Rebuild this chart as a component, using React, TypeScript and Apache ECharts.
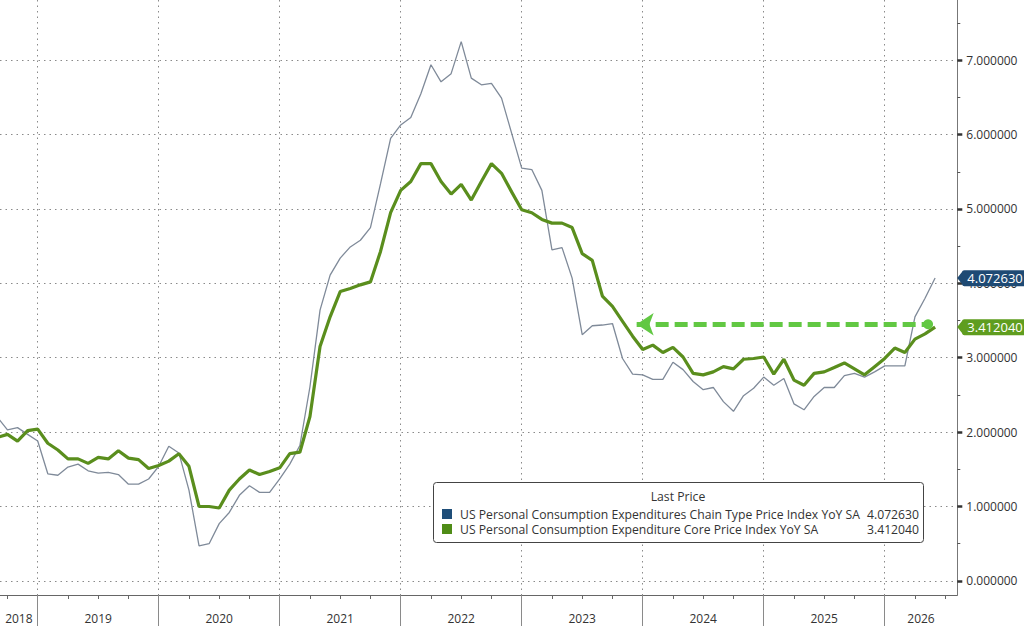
import React, { useEffect, useRef } from "react";
import * as echarts from "echarts";

// Monthly observations (month-end), Aug 2018 .. May 2026
const months = [
  "2018-08", "2018-09", "2018-10", "2018-11", "2018-12",
  "2019-01", "2019-02", "2019-03", "2019-04", "2019-05", "2019-06", "2019-07", "2019-08", "2019-09", "2019-10", "2019-11", "2019-12",
  "2020-01", "2020-02", "2020-03", "2020-04", "2020-05", "2020-06", "2020-07", "2020-08", "2020-09", "2020-10", "2020-11", "2020-12",
  "2021-01", "2021-02", "2021-03", "2021-04", "2021-05", "2021-06", "2021-07", "2021-08", "2021-09", "2021-10", "2021-11", "2021-12",
  "2022-01", "2022-02", "2022-03", "2022-04", "2022-05", "2022-06", "2022-07", "2022-08", "2022-09", "2022-10", "2022-11", "2022-12",
  "2023-01", "2023-02", "2023-03", "2023-04", "2023-05", "2023-06", "2023-07", "2023-08", "2023-09", "2023-10", "2023-11", "2023-12",
  "2024-01", "2024-02", "2024-03", "2024-04", "2024-05", "2024-06", "2024-07", "2024-08", "2024-09", "2024-10", "2024-11", "2024-12",
  "2025-01", "2025-02", "2025-03", "2025-04", "2025-05", "2025-06", "2025-07", "2025-08", "2025-09", "2025-10", "2025-11", "2025-12",
  "2026-01", "2026-02", "2026-03", "2026-04", "2026-05",
];

const headlinePce = [
  2.2, 2.03, 2.06, 1.97, 1.88,
  1.44, 1.42, 1.53, 1.57, 1.48, 1.45, 1.46, 1.43, 1.3, 1.3, 1.37, 1.54,
  1.81, 1.72, 1.22, 0.47, 0.5, 0.77, 0.92, 1.15, 1.28, 1.19, 1.19, 1.37,
  1.57, 1.82, 2.61, 3.64, 4.11, 4.34, 4.49, 4.58, 4.75, 5.34, 5.95, 6.13,
  6.23, 6.55, 6.94, 6.71, 6.82, 7.25, 6.76, 6.67, 6.69, 6.49, 6.02, 5.55,
  5.53, 5.25, 4.45, 4.48, 4.07, 3.31, 3.43, 3.44, 3.46, 2.99, 2.78, 2.77,
  2.71, 2.71, 2.94, 2.84, 2.68, 2.57, 2.6, 2.41, 2.28, 2.49, 2.59, 2.74,
  2.63, 2.72, 2.38, 2.3, 2.48, 2.6, 2.6, 2.76, 2.79, 2.74, 2.81, 2.89,
  2.89, 2.89, 3.55, 3.8, 4.07263,
];

const corePce = [
  1.93, 1.97, 1.88, 2.02, 2.04,
  1.85, 1.76, 1.64, 1.64, 1.58, 1.66, 1.64, 1.75, 1.65, 1.63, 1.51, 1.55,
  1.61, 1.71, 1.54, 1.0, 1.0, 0.98, 1.22, 1.37, 1.49, 1.43, 1.47, 1.52,
  1.71, 1.73, 2.21, 3.15, 3.55, 3.89, 3.93, 3.98, 4.02, 4.43, 4.95, 5.25,
  5.37, 5.61, 5.61, 5.37, 5.2, 5.33, 5.12, 5.37, 5.61, 5.48, 5.23, 4.99,
  4.95, 4.86, 4.81, 4.81, 4.75, 4.4, 4.31, 3.83, 3.69, 3.49, 3.29, 3.11,
  3.17, 3.07, 3.14, 3.01, 2.79, 2.77, 2.81, 2.88, 2.85, 2.98, 2.99, 3.01,
  2.78, 2.98, 2.7, 2.63, 2.79, 2.81, 2.87, 2.93, 2.85, 2.77, 2.88, 2.99,
  3.13, 3.07, 3.25, 3.32, 3.41204,
];

const yearLabels = ["2018", "2019", "2020", "2021", "2022", "2023", "2024", "2025", "2026"];
const yTickValues = [0, 1, 2, 3, 4, 5, 6, 7];
const yMinorTickValues = [0.5, 1.5, 2.5, 3.5, 4.5, 5.5, 6.5, 7.5];

const HEADLINE_NAME = "US Personal Consumption Expenditures Chain Type Price Index YoY SA";
const CORE_NAME = "US Personal Consumption Expenditure Core Price Index YoY SA";
const LEGEND_TITLE = "Last Price";

// annotation: dashed arrow level and span (months since start of 2019)
const arrowLevel = 3.45;
const arrowFrom = 59.4;
const arrowTo = 88.3;

// axis ranges (x in months since Jan 2019)
const X_MIN = -3.74;
const X_MAX = 91.2;
const Y_MIN = -0.19;
const Y_MAX = 7.81;

const toX = (ym: string) => {
  const [y, m] = ym.split("-").map(Number);
  return (y - 2019) * 12 + m;
};

const yearStart = (y: string) => (Number(y) - 2019) * 12;
const yearCenters = yearLabels.map((y) => {
  const s = Math.max(yearStart(y), X_MIN);
  const e = Math.min(yearStart(y) + 12, X_MAX);
  return (s + e) / 2;
});
const yearBoundaries = yearLabels.map(yearStart).filter((v) => v > X_MIN && v < X_MAX);
const quarterTicks: number[] = [];
for (let q = -3; q < X_MAX; q += 3) quarterTicks.push(q);

const FONT = "'Open Sans', 'Noto Sans', sans-serif";
const GRAY = "#7f8a99";
const GREEN = "#5a8e1d";
const BLUE_BADGE = "#1e4a74";
const GREEN_BADGE = "#5f9d1f";
const ARROW_GREEN = "#62c843";
const NO_LINE = "rgba(0,0,0,0)";

export default function App() {
  const ref = useRef<HTMLDivElement>(null);

  useEffect(() => {
    if (!ref.current) return;
    const chart = echarts.init(ref.current, undefined, { renderer: "svg" });
    const lastHeadline = headlinePce[headlinePce.length - 1];
    const lastCore = corePce[corePce.length - 1];

    const badgeLabel = (val: number, bg: string) => ({
      show: true,
      position: "end",
      distance: 5,
      formatter: val.toFixed(6),
      backgroundColor: bg,
      color: "#ffffff",
      fontSize: 13,
      fontFamily: FONT,
      padding: [2, 6, 1, 5],
      borderRadius: 2,
    });

    const option: any = {
      animation: false,
      textStyle: { fontFamily: FONT },
      grid: { left: 0, right: 1024 - 957.3, top: 0, bottom: 626 - 595, containLabel: false },
      xAxis: [
        {
          type: "value",
          min: X_MIN,
          max: X_MAX,
          position: "bottom",
          axisLine: { show: true, onZero: false, lineStyle: { color: "#666", width: 1 } },
          axisTick: { show: true, customValues: quarterTicks, length: 4, lineStyle: { color: "#666" } },
          axisLabel: {
            show: true,
            customValues: yearCenters,
            margin: 17,
            color: "#333",
            fontSize: 12,
            formatter: (v: number) => {
              let best = 0;
              yearCenters.forEach((c, i) => {
                if (Math.abs(c - v) < Math.abs(yearCenters[best] - v)) best = i;
              });
              return yearLabels[best];
            },
          },
          splitLine: { show: false },
        },
        {
          type: "value",
          min: X_MIN,
          max: X_MAX,
          position: "bottom",
          axisLine: { show: false, onZero: false },
          axisTick: { show: true, customValues: yearBoundaries, length: 31, lineStyle: { color: "#8a8a8a" } },
          axisLabel: { show: false },
          splitLine: { show: true, lineStyle: { color: "#8a8a8a", width: 1, type: [1.5, 4] } },
        },
      ],
      yAxis: [
        {
          type: "value",
          min: Y_MIN,
          max: Y_MAX,
          position: "right",
          axisLine: { show: true, onZero: false, lineStyle: { color: "#777", width: 1 } },
          axisTick: { show: true, customValues: yTickValues, length: 5, lineStyle: { color: "#333", width: 2.5 } },
          axisLabel: {
            show: true,
            customValues: yTickValues,
            margin: 9,
            color: "#333",
            fontSize: 12,
            formatter: (v: number) => v.toFixed(6),
          },
          splitLine: { show: true, lineStyle: { color: "#8a8a8a", width: 1, type: [1.5, 4] } },
        },
        {
          type: "value",
          min: Y_MIN,
          max: Y_MAX,
          position: "right",
          axisLine: { show: false, onZero: false },
          axisTick: { show: true, customValues: yMinorTickValues, length: 3, lineStyle: { color: "#555" } },
          axisLabel: { show: false },
          splitLine: { show: false },
        },
      ],
      legend: {
        orient: "vertical",
        left: 437,
        top: 503,
        itemWidth: 10,
        itemHeight: 10,
        itemGap: 3,
        icon: "rect",
        selectedMode: false,
        z: 10,
        data: [
          { name: HEADLINE_NAME, itemStyle: { color: "#1f4e79" } },
          { name: CORE_NAME, itemStyle: { color: "#4f8c17" } },
        ],
        formatter: (name: string) => {
          const v = name === HEADLINE_NAME ? lastHeadline : lastCore;
          return `{n|${name}}{v|${v.toFixed(6)}}`;
        },
        textStyle: {
          rich: {
            n: { width: 405, fontSize: 12.2, color: "#333", fontFamily: FONT, padding: [0, 0, 0, 3] },
            v: { width: 54, align: "right", fontSize: 12.2, color: "#333", fontFamily: FONT },
          },
        },
      },
      graphic: [
        {
          type: "rect",
          z: 8,
          shape: { x: 433.5, y: 482.5, width: 490, height: 60, r: 3 },
          style: { fill: "#ffffff", stroke: "#444", lineWidth: 1 },
        },
        {
          type: "text",
          z: 9,
          x: 678,
          y: 496,
          style: {
            text: LEGEND_TITLE,
            fill: "#333",
            font: `12.2px ${FONT}`,
            textAlign: "center",
            textVerticalAlign: "middle",
          },
        },
      ],
      series: [
        {
          name: HEADLINE_NAME,
          type: "line",
          xAxisIndex: 0,
          yAxisIndex: 0,
          data: headlinePce.map((v, i) => [toX(months[i]), v]),
          showSymbol: false,
          symbol: "none",
          lineStyle: { color: GRAY, width: 1.3 },
          itemStyle: { color: GRAY },
          z: 2,
          markLine: {
            silent: true,
            symbol: ["none", "none"],
            lineStyle: { color: NO_LINE, width: 0 },
            label: badgeLabel(lastHeadline, BLUE_BADGE),
            data: [{ yAxis: lastHeadline }],
          },
          markPoint: {
            silent: true,
            symbol: "triangle",
            symbolSize: [15, 6],
            symbolRotate: 90,
            symbolOffset: [3, 0],
            itemStyle: { color: BLUE_BADGE },
            label: { show: false },
            data: [{ coord: [X_MAX - 0.01, lastHeadline] }],
          },
        },
        {
          name: CORE_NAME,
          type: "line",
          xAxisIndex: 0,
          yAxisIndex: 0,
          data: corePce.map((v, i) => [toX(months[i]), v]),
          showSymbol: false,
          symbol: "none",
          lineStyle: { color: GREEN, width: 3.2 },
          itemStyle: { color: GREEN },
          z: 3,
          markLine: {
            silent: true,
            symbol: ["none", "none"],
            data: [
              {
                yAxis: lastCore,
                lineStyle: { color: NO_LINE, width: 0 },
                label: badgeLabel(lastCore, GREEN_BADGE),
              },
              [
                {
                  coord: [arrowFrom, arrowLevel],
                  symbol: "arrow",
                  symbolSize: 17,
                  lineStyle: { color: ARROW_GREEN, width: 5, type: [13, 6] },
                  itemStyle: { color: ARROW_GREEN },
                  label: { show: false },
                },
                { coord: [arrowTo, arrowLevel], symbol: "circle", symbolSize: 10 },
              ],
            ],
          },
          markPoint: {
            silent: true,
            symbol: "triangle",
            symbolSize: [15, 6],
            symbolRotate: 90,
            symbolOffset: [3, 0],
            itemStyle: { color: GREEN_BADGE },
            label: { show: false },
            data: [{ coord: [X_MAX - 0.01, lastCore] }],
          },
        },
      ],
    };

    chart.setOption(option);
    return () => chart.dispose();
  }, []);

  return (
    <div
      ref={ref}
      style={{ position: "absolute", left: 0, top: 0, width: 1024, height: 626, background: "#ffffff" }}
    />
  );
}
